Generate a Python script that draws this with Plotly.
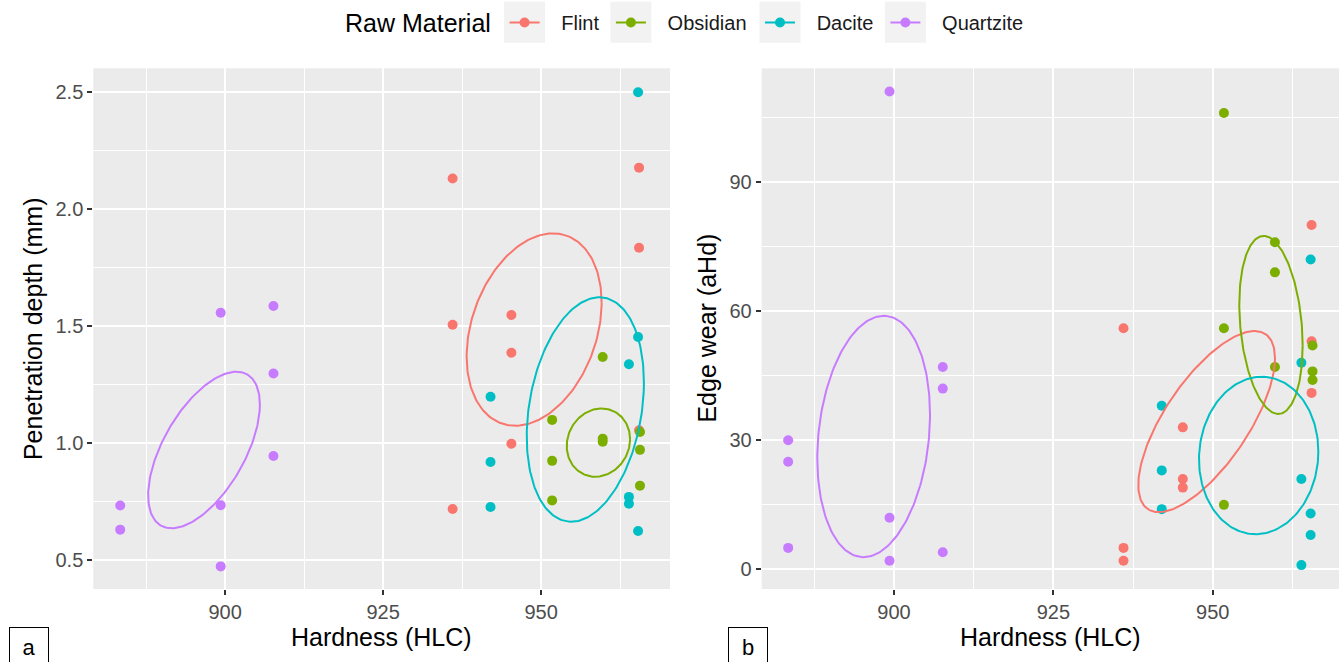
import numpy as np
import plotly.graph_objects as go

W, H = 1339, 662
FONT = "Liberation Sans"

materials = ["Flint", "Obsidian", "Dacite", "Quartzite"]
colors = ["#F8766D", "#7CAE00", "#00BFC4", "#C77CFF"]

# ---- Panel a: Hardness vs Penetration depth ----
a_flint_x = [936.0, 936.0, 936.0, 945.3, 945.3, 945.3, 965.5, 965.5, 965.5]
a_flint_y = [2.132, 1.507, 0.719, 1.548, 1.387, 0.998, 2.178, 1.836, 1.056]
a_obs_x = [951.75, 951.75, 951.75, 959.75, 959.75, 959.75, 965.65, 965.65, 965.65]
a_obs_y = [1.100, 0.925, 0.756, 1.369, 1.020, 1.007, 1.048, 0.972, 0.819]
a_dac_x = [942.0, 942.0, 942.0, 963.9, 963.9, 963.9, 965.35, 965.35, 965.35]
a_dac_y = [1.199, 0.920, 0.728, 1.338, 0.771, 0.742, 2.500, 1.454, 0.625]
a_qtz_x = [883.4, 883.4, 899.3, 899.3, 899.3, 907.65, 907.65, 907.65]
a_qtz_y = [0.734, 0.631, 1.558, 0.735, 0.474, 1.587, 1.298, 0.946]

# ---- Panel b: Hardness vs Edge wear ----
b_flint_x = [936.0, 936.0, 936.0, 945.3, 945.3, 945.3, 965.5, 965.5, 965.5]
b_flint_y = [56.0, 5.0, 2.0, 33.0, 21.0, 19.0, 80.0, 53.0, 41.0]
b_obs_x = [951.75, 951.75, 951.75, 959.75, 959.75, 959.75, 965.65, 965.65, 965.65]
b_obs_y = [106.0, 56.0, 15.0, 76.0, 69.0, 47.0, 52.0, 46.0, 44.0]
b_dac_x = [942.0, 942.0, 942.0, 963.9, 963.9, 963.9, 965.35, 965.35, 965.35]
b_dac_y = [38.0, 23.0, 14.0, 48.0, 21.0, 1.0, 72.0, 13.0, 8.0]
b_qtz_x = [883.4, 883.4, 883.4, 899.3, 899.3, 899.3, 907.65, 907.65, 907.65]
b_qtz_y = [30.0, 25.0, 5.0, 111.0, 12.0, 2.0, 47.0, 42.0, 4.0]

# ---- ellipse parameters (centre, half-extents, correlation) per material ----
a_ell_cx = [948.9, 959.07, 957.0, 896.66]
a_ell_cy = [1.486, 1.003, 1.1445, 0.9715]
a_ell_sx = [10.68, 5.01, 9.27, 8.84]
a_ell_sy = [0.411, 0.146, 0.4795, 0.3345]
a_ell_rho = [0.28, 0.10, 0.24, 0.58]

b_ell_cx = [949.04, 959.13, 957.2, 896.81]
b_ell_cy = [34.33, 56.79, 26.47, 30.88]
b_ell_sx = [10.72, 4.97, 9.36, 8.84]
b_ell_sy = [21.03, 20.68, 18.28, 28.03]
b_ell_rho = [0.70, -0.23, 0.05, 0.18]

x_ticks = [900, 925, 950]
x_minor = [887.5, 912.5, 937.5, 962.5]
a_y_ticks = [0.5, 1.0, 1.5, 2.0, 2.5]
a_y_minor = [0.75, 1.25, 1.75, 2.25]
b_y_ticks = [0, 30, 60, 90]
b_y_minor = [15, 45, 75, 105]

a_pts = [(a_flint_x, a_flint_y), (a_obs_x, a_obs_y), (a_dac_x, a_dac_y), (a_qtz_x, a_qtz_y)]
b_pts = [(b_flint_x, b_flint_y), (b_obs_x, b_obs_y), (b_dac_x, b_dac_y), (b_qtz_x, b_qtz_y)]


def ellipse(cx, cy, sx, sy, rho, n=200):
    t = np.linspace(0, 2 * np.pi, n + 1)
    x = cx + sx * np.cos(t)
    y = cy + sy * (rho * np.cos(t) + np.sqrt(1 - rho ** 2) * np.sin(t))
    return x, y


fig = go.Figure()

for pts, xa, ya in [(a_pts, "x", "y"), (b_pts, "x2", "y2")]:
    for (px, py), m, c in zip(pts, materials, colors):
        fig.add_trace(go.Scatter(x=px, y=py, mode="markers", name=m, showlegend=False,
                                 marker=dict(size=10, color=c), xaxis=xa, yaxis=ya,
                                 hoverinfo="skip"))

for params, xa, ya in [((a_ell_cx, a_ell_cy, a_ell_sx, a_ell_sy, a_ell_rho), "x", "y"),
                       ((b_ell_cx, b_ell_cy, b_ell_sx, b_ell_sy, b_ell_rho), "x2", "y2")]:
    for i, (m, c) in enumerate(zip(materials, colors)):
        ex, ey = ellipse(*(p[i] for p in params))
        fig.add_trace(go.Scatter(x=ex, y=ey, mode="lines", name=m, showlegend=False,
                                 line=dict(color=c, width=2), xaxis=xa, yaxis=ya,
                                 hoverinfo="skip"))

# legend entries (one legend per entry so each can be placed like ggplot's keys)
key_left = [504.1, 610.4, 759.5, 884.9]
key_w = 41.0
GAP = "\u00a0\u00a0\u00a0"  # spacing between key box and label
legend_layouts = {}
for i, (m, c) in enumerate(zip(materials, colors)):
    lg = "legend" if i == 0 else f"legend{i + 1}"
    fig.add_trace(go.Scatter(x=[None], y=[None], mode="lines+markers", name=GAP + m,
                             line=dict(color=c, width=2), marker=dict(size=10, color=c),
                             legend=lg, showlegend=True, xaxis="x", yaxis="y"))
    legend_layouts[lg] = dict(
        x=(key_left[i] + key_w / 2 - 20) / W, y=1 - 22.5 / H,
        xanchor="left", yanchor="middle", orientation="h",
        bgcolor="rgba(0,0,0,0)", borderwidth=0,
        font=dict(family=FONT, size=20, color="#1A1A1A"), itemwidth=30,
    )

shapes = []
for kl in key_left:
    shapes.append(dict(type="rect", xref="paper", yref="paper",
                       x0=kl / W, x1=(kl + key_w) / W, y0=1 - 42.7 / H, y1=1 - 1.7 / H,
                       fillcolor="#F2F2F2", line=dict(width=0), layer="below"))

tickfont = dict(family=FONT, size=20, color="#4D4D4D")
common_axis = dict(showgrid=True, gridcolor="white", gridwidth=1.6, zeroline=False,
                   showline=False, ticks="outside", ticklen=5, tickwidth=1.6,
                   tickcolor="#333333", tickfont=tickfont)

ydom = [(H - 589) / H, (H - 68.3) / H]

fig.update_layout(
    width=W, height=H,
    margin=dict(l=0, r=0, t=0, b=0),
    paper_bgcolor="white",
    plot_bgcolor="#EBEBEB",
    font=dict(family=FONT),
    xaxis=dict(domain=[93.3 / W, 670 / W], range=[879.14, 970.4], tickvals=x_ticks,
               minor=dict(tickvals=x_minor, showgrid=True, gridcolor="white", gridwidth=0.8, ticks=""),
               anchor="y", **common_axis),
    yaxis=dict(domain=ydom, range=[0.3774, 2.6026], tickvals=a_y_ticks,
               ticktext=[f"{v:.1f}" for v in a_y_ticks],
               minor=dict(tickvals=a_y_minor, showgrid=True, gridcolor="white", gridwidth=0.8, ticks=""),
               anchor="x", **common_axis),
    xaxis2=dict(domain=[761.7 / W, 1.0], range=[879.25, 969.8], tickvals=x_ticks,
                minor=dict(tickvals=x_minor, showgrid=True, gridcolor="white", gridwidth=0.8, ticks=""),
                anchor="y2", **common_axis),
    yaxis2=dict(domain=ydom, range=[-4.55, 116.4], tickvals=b_y_ticks,
                minor=dict(tickvals=b_y_minor, showgrid=True, gridcolor="white", gridwidth=0.8, ticks=""),
                anchor="x2", **common_axis),
    shapes=shapes,
    **legend_layouts,
)

annotations = [
    dict(text="Raw Material", x=342.5 / W, y=1 - 23 / H, xref="paper", yref="paper",
         xanchor="left", yanchor="middle", showarrow=False,
         font=dict(family=FONT, size=25, color="black")),
    dict(text="Penetration depth (mm)", x=32.5 / W, y=1 - 328.6 / H, xref="paper", yref="paper",
         xanchor="center", yanchor="middle", textangle=-90, showarrow=False,
         font=dict(family=FONT, size=25, color="black")),
    dict(text="Edge wear (aHd)", x=707 / W, y=1 - 328.6 / H, xref="paper", yref="paper",
         xanchor="center", yanchor="middle", textangle=-90, showarrow=False,
         font=dict(family=FONT, size=25, color="black")),
    dict(text="Hardness (HLC)", x=381.7 / W, y=1 - 637 / H, xref="paper", yref="paper",
         xanchor="center", yanchor="middle", showarrow=False,
         font=dict(family=FONT, size=25, color="black")),
    dict(text="Hardness (HLC)", x=1050 / W, y=1 - 637 / H, xref="paper", yref="paper",
         xanchor="center", yanchor="middle", showarrow=False,
         font=dict(family=FONT, size=25, color="black")),
]
for lab, bx in [("a", 8.5), ("b", 728.2)]:
    annotations.append(dict(text=lab, x=bx / W, y=1 - 627 / H, xref="paper", yref="paper",
                            xanchor="left", yanchor="top", showarrow=False,
                            width=38, height=38, align="center", valign="middle",
                            bordercolor="black", borderwidth=1, borderpad=0, bgcolor="white",
                            font=dict(family=FONT, size=22, color="black")))
fig.update_layout(annotations=annotations)

fig.write_html("out.html")
